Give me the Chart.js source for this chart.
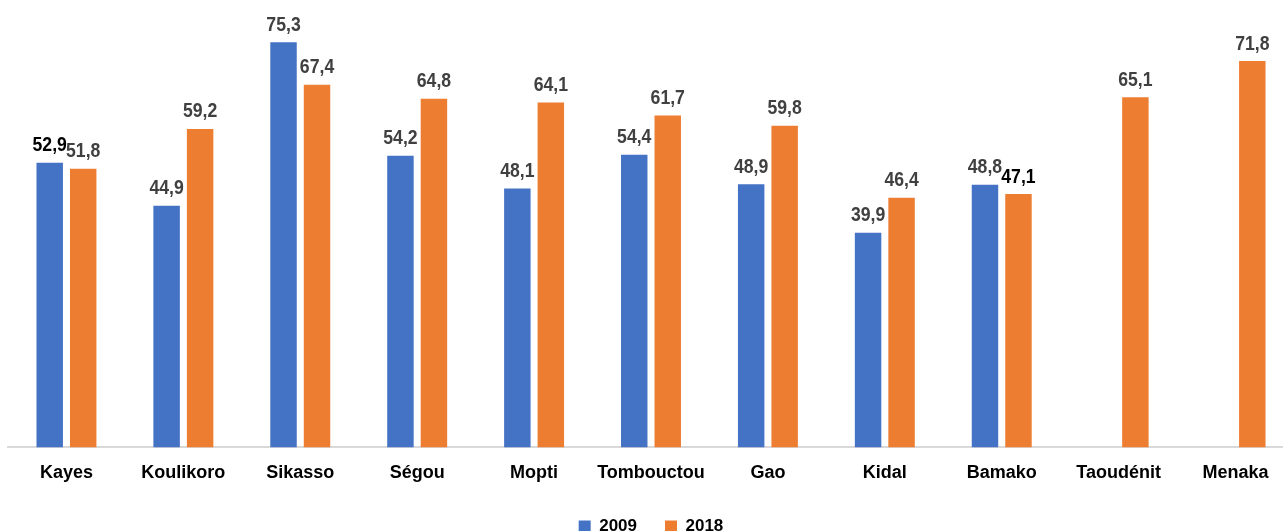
<!DOCTYPE html>
<html>
<head>
<meta charset="utf-8">
<script src="https://cdn.jsdelivr.net/npm/chart.js@4/dist/chart.umd.min.js"></script>
<style>
  html, body { margin: 0; padding: 0; background: #fff; }
  #wrap { width: 1283px; height: 531px; overflow: hidden; position: relative; }
  canvas { display: block; }
</style>
</head>
<body>
<div id="wrap">
  <canvas id="chart" width="1294" height="545"></canvas>
</div>
<script>
// regions and values
const regions = ["Kayes", "Koulikoro", "Sikasso", "Ségou", "Mopti", "Tombouctou",
                 "Gao", "Kidal", "Bamako", "Taoudénit", "Menaka"];
const values2009 = [52.9, 44.9, 75.3, 54.2, 48.1, 54.4, 48.9, 39.9, 48.8, null, null];
const values2018 = [51.8, 59.2, 67.4, 64.8, 64.1, 61.7, 59.8, 46.4, 47.1, 65.1, 71.8];
const seriesNames = ["2009", "2018"];

const FONT = "'Liberation Sans', Arial, sans-serif";

// labels that are printed in black instead of dark grey
const blackLabels = { "0-0": true, "1-8": true };

// -------------------------------
// Value labels above the bars (squeezed to look like a narrow face)
// -------------------------------
const barLabels = {
  id: "barLabels",
  afterDatasetsDraw(chart) {
    const ctx = chart.ctx;
    const items = [];
    chart.data.datasets.forEach((ds, di) => {
      const meta = chart.getDatasetMeta(di);
      meta.data.forEach((bar, i) => {
        const v = ds.data[i];
        if (v === null || v === undefined) return;
        items.push({ x: bar.x, y: bar.y, text: v.toFixed(1).replace(".", ","),
                     black: !!blackLabels[di + "-" + i] });
      });
    });
    items.sort((a, b) => a.black - b.black);
    const sx = 0.84;
    ctx.save();
    ctx.font = "bold 21px " + FONT;
    ctx.textAlign = "center";
    ctx.textBaseline = "alphabetic";
    items.forEach(it => {
      ctx.save();
      ctx.translate(it.x, it.y - 11.5);
      ctx.scale(sx, 1);
      ctx.fillStyle = it.black ? "#000000" : "#404040";
      ctx.fillText(it.text, 0, 0);
      ctx.restore();
    });
    ctx.restore();
  }
};

new Chart(document.getElementById("chart"), {
  type: "bar",
  data: {
    labels: regions,
    datasets: [
      { label: seriesNames[0], data: values2009, backgroundColor: "#4472C4" },
      { label: seriesNames[1], data: values2018, backgroundColor: "#ED7D31" }
    ]
  },
  options: {
    responsive: false,
    animation: false,
    categoryPercentage: 0.573,
    barPercentage: 0.79,
    layout: { padding: { left: 8, right: 0, top: 17, bottom: 0 } },
    scales: {
      x: {
        grid: { display: false, drawTicks: false },
        border: { display: true, color: "#d9d9d9", width: 2 },
        ticks: {
          padding: 15,
          maxRotation: 0,
          minRotation: 0,
          autoSkip: false,
          color: "#000000",
          font: { family: FONT, size: 18, weight: "bold" }
        },
        // pull the legend up closer to the category names
        afterFit(scale) { scale.height -= 9; }
      },
      y: {
        display: false,
        min: 0,
        max: 80
      }
    },
    plugins: {
      legend: {
        display: true,
        position: "bottom",
        labels: {
          boxWidth: 12,
          boxHeight: 12,
          padding: 28,
          color: "#000000",
          font: { family: FONT, size: 17, weight: "bold" }
        }
      },
      tooltip: { enabled: false }
    }
  },
  plugins: [barLabels]
});
</script>
</body>
</html>
